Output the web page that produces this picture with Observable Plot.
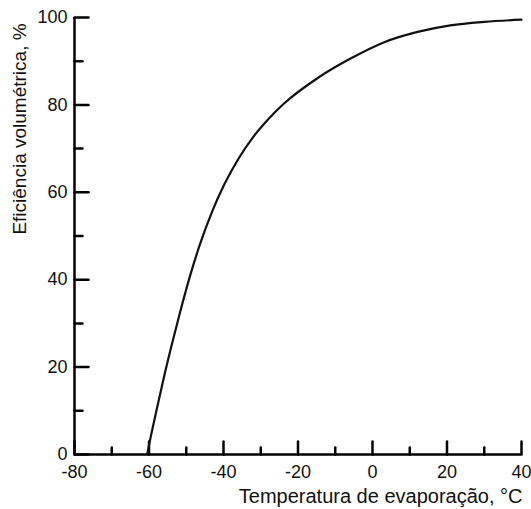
<!DOCTYPE html>
<html>
<head>
<meta charset="utf-8">
<script src="https://cdn.jsdelivr.net/npm/d3@7"></script>
<script src="https://cdn.jsdelivr.net/npm/@observablehq/plot@0.6"></script>
<style>
  html, body { margin: 0; padding: 0; background: #fff; }
  svg { display: block; }
</style>
</head>
<body>
<div id="chart"></div>
<script>
const temperature = [-60.5, -59.4, -57.8, -55.8, -53.6, -51.4, -48.9, -46.4, -43.0, -39.9, -35.9, -31.9, -27.8, -23.9, -14.8, -5.9, 3.0, 12.1, 20.9, 30, 40];
const efficiency  = [0, 4.6, 10.8, 18.4, 26.1, 33.4, 41.1, 47.9, 55.7, 61.6, 67.8, 72.8, 76.9, 80.2, 86.1, 90.6, 94.3, 96.7, 98.2, 99.0, 99.5];
const xMajor = [-80, -60, -40, -20, 0, 20, 40];
const xMinor = [-70, -50, -30, -10, 10, 30];
const yMajor = [0, 20, 40, 60, 80, 100];
const yMinor = [10, 30, 50, 70, 90];
const xTitle = "Temperatura de evaporação, °C";
const yTitle = "Eficiência volumétrica, %";

const data = temperature.map((t, i) => ({t, e: efficiency[i]}));
const font = "Liberation Sans, Arial, sans-serif";
const fmt = d => String(d);
// a plain line segment as vector shape
const stick = {draw(context, l) { context.moveTo(0, 0); context.lineTo(0, -l); }};

const chart = Plot.plot({
  width: 531,
  height: 509,
  marginLeft: 74,
  marginRight: 10,
  marginTop: 17,
  marginBottom: 55,
  style: {fontFamily: font, fontSize: "18px", color: "#111", background: "#fff"},
  x: {domain: [-80, 40]},
  y: {domain: [0, 100]},
  marks: [
    // inward ticks
    Plot.vector(xMajor, {x: d => d, y: 0, length: 13, rotate: 0, anchor: "start", shape: stick, stroke: "#000", strokeWidth: 2.5}),
    Plot.vector(xMinor, {x: d => d, y: 0, length: 7, rotate: 0, anchor: "start", shape: stick, stroke: "#000", strokeWidth: 2.5}),
    Plot.vector(yMajor, {x: -80, y: d => d, length: 14, rotate: 90, anchor: "start", shape: stick, stroke: "#000", strokeWidth: 2.5}),
    Plot.vector(yMinor, {x: -80, y: d => d, length: 8, rotate: 90, anchor: "start", shape: stick, stroke: "#000", strokeWidth: 2.5}),
    // labels
    Plot.axisX({ticks: xMajor, tickSize: 0, tickPadding: 11, tickFormat: fmt, fontSize: 18, label: null, fill: "#111"}),
    Plot.axisY({ticks: yMajor, tickSize: 0, tickPadding: 7, tickFormat: fmt, fontSize: 18, label: null, fill: "#111"}),
    // axis lines
    Plot.ruleY([0], {stroke: "#000", strokeWidth: 2.5}),
    Plot.ruleX([-80], {stroke: "#000", strokeWidth: 2.5}),
    // curve
    Plot.line(data, {x: "t", y: "e", curve: "monotone-x", stroke: "#111", strokeWidth: 2.2}),
    // titles
    Plot.text([xTitle], {frameAnchor: "bottom-right", textAnchor: "end", lineAnchor: "middle", dy: 42, dx: 1, fontSize: 20, fill: "#111"}),
    Plot.text([yTitle], {frameAnchor: "left", textAnchor: "middle", lineAnchor: "middle", rotate: -90, dx: -55, dy: -107, fontSize: 19, fill: "#111"})
  ]
});
document.getElementById("chart").appendChild(chart);
</script>
</body>
</html>
